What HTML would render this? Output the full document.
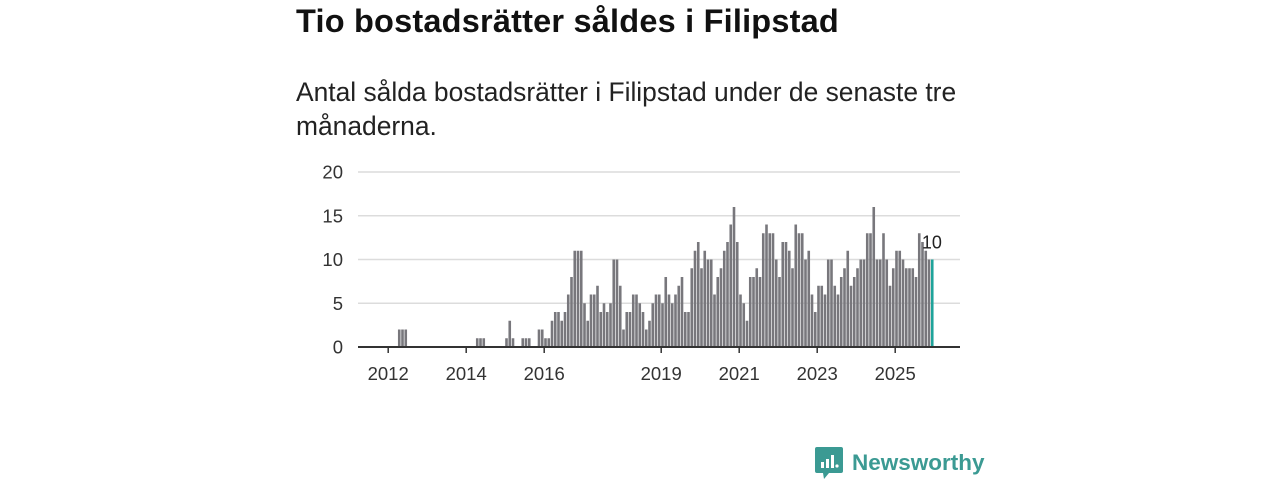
<!DOCTYPE html>
<html><head><meta charset="utf-8"><style>
body{margin:0;width:1280px;height:480px;background:#fff;font-family:"Liberation Sans",sans-serif;overflow:hidden;position:relative}
#title{position:absolute;left:296px;top:3px;font-size:32.5px;font-weight:bold;color:#111;margin:0;letter-spacing:0.2px}
#sub{position:absolute;left:296px;top:75px;width:700px;font-size:26.4px;line-height:34px;color:#222;margin:0}
svg{position:absolute;left:0;top:0}
</style></head><body>
<h1 id="title">Tio bostadsrätter såldes i Filipstad</h1>
<p id="sub">Antal sålda bostadsrätter i Filipstad under de senaste tre månaderna.</p>
<svg id="chart" width="1280" height="480"></svg>
<script>
const yTicks=[0,5,10,15,20];
const xTickYears=[2012,2014,2016,2019,2021,2023,2025];
const startYear=2012;
const values=[0,0,0,2,2,2,0,0,0,0,0,0,
0,0,0,0,0,0,0,0,0,0,0,0,
0,0,0,1,1,1,0,0,0,0,0,0,
1,3,1,0,0,1,1,1,0,0,2,2,
1,1,3,4,4,3,4,6,8,11,11,11,
5,3,6,6,7,4,5,4,5,10,10,7,
2,4,4,6,6,5,4,2,3,5,6,6,
5,8,6,5,6,7,8,4,4,9,11,12,
9,11,10,10,6,8,9,11,12,14,16,12,
6,5,3,8,8,9,8,13,14,13,13,10,
8,12,12,11,9,14,13,13,10,11,6,4,
7,7,6,10,10,7,6,8,9,11,7,8,
9,10,10,13,13,16,10,10,13,10,7,9,
11,11,10,9,9,9,8,13,12,11,10,10];
const NS="http://www.w3.org/2000/svg";
const svg=document.getElementById('chart');
const X0=358,X1=960,Y0=347,PXU=8.75,JAN2012=388.2,PXM=3.25;
const yS=v=>Y0-v*PXU;
const xS=i=>JAN2012+i*PXM;
function mk(t,a){const e=document.createElementNS(NS,t);for(const k in a)e.setAttribute(k,a[k]);svg.appendChild(e);return e;}
yTicks.forEach(v=>{
  if(v>0){const g=mk('line',{x1:X0,x2:X1,y1:yS(v),y2:yS(v),stroke:'#dcdcdc','stroke-width':1.5});
  
  }
  const t=mk('text',{x:343,y:yS(v)+6.5,'text-anchor':'end','font-size':18.5,fill:'#333','font-family':'Liberation Sans, sans-serif'});
  t.textContent=v;
  
  
});
values.forEach((v,i)=>{
  if(v<=0)return;
  const last=i===values.length-1;
  const r=mk('rect',{x:xS(i),y:yS(v),width:2.6,height:v*PXU,fill:last?'#1fa39a':'#78777c'});
  
  
});
const ax=mk('line',{x1:X0,x2:X1,y1:Y0,y2:Y0,stroke:'#333','stroke-width':2});


xTickYears.forEach(y=>{
  const x=xS((y-startYear)*12);
  const tk=mk('line',{x1:x,x2:x,y1:Y0,y2:Y0+6,stroke:'#333','stroke-width':1.5});
  
  
  const t=mk('text',{x:x,y:380,'text-anchor':'middle','font-size':18.5,fill:'#333','font-family':'Liberation Sans, sans-serif'});
  t.textContent=y;
  
  
});
const li=values.length-1;
const lab=mk('text',{x:xS(li)+11,y:yS(values[li])-11,'text-anchor':'end','font-size':18,fill:'#222','font-family':'Liberation Sans, sans-serif'});
lab.textContent=values[li];


</script>
<div style="position:absolute;left:815px;top:447px;height:32px;display:flex;align-items:center">
<svg width="28" height="32" viewBox="0 0 28 32" style="position:static"><path d="M2 0h24a2 2 0 0 1 2 2v22a2 2 0 0 1-2 2H14l-5 6-1-6H2a2 2 0 0 1-2-2V2a2 2 0 0 1 2-2z" fill="#3b9a93"/><rect x="6" y="15" width="3" height="6" fill="#fff"/><rect x="11" y="12" width="3" height="9" fill="#fff"/><rect x="16" y="8" width="3" height="13" fill="#fff"/><circle cx="22" cy="19" r="1.6" fill="#fff"/></svg>
<span style="margin-left:9px;font-size:22.5px;color:#3b9a93;font-weight:bold">Newsworthy</span>
</div>
</body></html>
